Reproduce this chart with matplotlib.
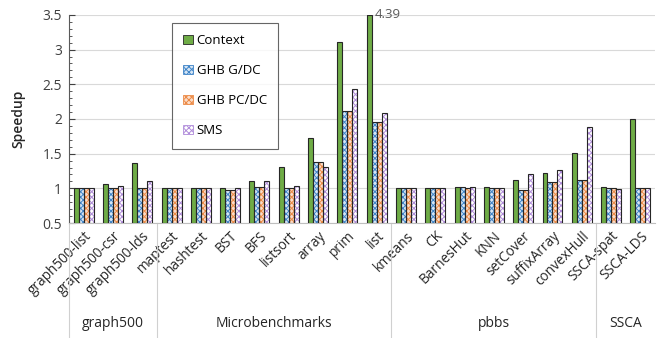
import numpy as np
import matplotlib.pyplot as plt
from matplotlib.patches import Patch

plt.rcParams['font.family'] = ['Open Sans', 'DejaVu Sans']

benchmarks = ['graph500-list', 'graph500-csr', 'graph500-lds',
              'maptest', 'hashtest', 'BST', 'BFS', 'listsort', 'array', 'prim', 'list',
              'kmeans', 'CK', 'BarnesHut', 'KNN', 'setCover', 'suffixArray', 'convexHull',
              'SSCA-spat', 'SSCA-LDS']
groups = ['graph500', 'Microbenchmarks', 'pbbs', 'SSCA']
group_sizes = [3, 8, 7, 2]

context = [1.0, 1.06, 1.37, 1.01, 1.01, 1.01, 1.10, 1.31, 1.73, 3.11, 4.39,
           1.0, 1.0, 1.02, 1.02, 1.12, 1.22, 1.51, 1.02, 2.0]
ghb_gdc = [1.0, 1.0, 1.0, 1.0, 1.0, 0.98, 1.02, 1.0, 1.38, 2.12, 1.95,
           1.0, 1.0, 1.02, 1.0, 0.98, 1.09, 1.12, 1.0, 1.0]
ghb_pcdc = [1.0, 1.0, 1.0, 1.0, 1.0, 0.98, 1.02, 1.0, 1.38, 2.12, 1.95,
            1.0, 1.0, 1.01, 1.0, 0.98, 1.09, 1.12, 1.0, 1.0]
sms = [1.0, 1.03, 1.11, 1.0, 1.0, 1.01, 1.10, 1.04, 1.31, 2.43, 2.08,
       1.0, 1.0, 1.02, 1.01, 1.20, 1.27, 1.88, 0.99, 1.0]

series = [
    ('Context', context, '#6FAC46', None, None),
    ('GHB G/DC', ghb_gdc, '#D6E6F5', '#3F84C8', 'xxxxxx'),
    ('GHB PC/DC', ghb_pcdc, '#FBDCC8', '#EC8A45', 'xxxxxx'),
    ('SMS', sms, '#FFFFFF', '#B08CDA', 'xxxxxx'),
]

fig = plt.figure(figsize=(6.57, 3.38), dpi=100)
ax = fig.add_axes([0.105, 0.340, 0.892, 0.616])

x = np.arange(len(benchmarks))
w = 0.17
ymin, ymax = 0.5, 3.5
plt.rcParams['hatch.linewidth'] = 0.7
handles = []
for k, (name, vals, fill, hcol, hatch) in enumerate(series):
    pos = x + (k - 1.5) * w
    heights = np.minimum(vals, ymax) - ymin
    if hatch:
        ax.bar(pos, heights, w, bottom=ymin, color=fill, edgecolor=hcol,
               hatch=hatch, linewidth=0, zorder=3)
    else:
        ax.bar(pos, heights, w, bottom=ymin, color=fill, linewidth=0, zorder=3)
    ax.bar(pos, heights, w, bottom=ymin, fill=False, edgecolor='#262626',
           linewidth=0.8, zorder=4)
    handles.append(Patch(facecolor=fill, edgecolor=hcol if hatch else '#262626',
                         hatch=hatch, linewidth=0.6, label=name))

ax.text(9.93, 3.5, '4.39', color='#595959', fontsize=9.5, va='center', ha='left')

ax.set_xlim(-0.5, len(benchmarks) - 0.5)
ax.set_ylim(ymin, ymax)
ax.set_yticks(np.arange(0.5, 3.51, 0.5))
ax.set_yticklabels(['0.5', '1', '1.5', '2', '2.5', '3', '3.5'])
ax.set_yticks(np.arange(0.5, 3.51, 0.1), minor=True)
ax.tick_params(axis='y', which='both', direction='in', labelsize=10, colors='#404040')
ax.tick_params(axis='y', which='major', length=4, pad=5)
ax.tick_params(axis='y', which='minor', length=2.5)
ax.set_xticks(x)
ax.set_xticklabels(benchmarks, rotation=45, ha='right', rotation_mode='anchor',
                   fontsize=9.8, color='#262626')
ax.tick_params(axis='x', length=0, pad=4)
ax.yaxis.grid(True, color='#D9D9D9', linewidth=0.8, zorder=0)
ax.set_axisbelow(True)
for s in ['top', 'right']:
    ax.spines[s].set_visible(False)
ax.spines['left'].set_color('#595959')
ax.spines['bottom'].set_color('#BFBFBF')
ax.set_ylabel('Speedup', fontsize=10, color='#262626', labelpad=12,
              fontweight='semibold')

# group separators and group names under the tick labels
bounds = np.concatenate([[0], np.cumsum(group_sizes)]) - 0.5
for b in bounds[:-1]:
    ax.plot([b, b], [ymin, ymin - 1.7], color='#D0D0D0', linewidth=0.8,
            clip_on=False, transform=ax.transData)
for g, lo, hi in zip(groups, bounds[:-1], bounds[1:]):
    ax.text((lo + hi) / 2, ymin - 1.45, g, ha='center', va='center',
            fontsize=10, color='#262626')

leg = ax.legend(handles=handles, loc='upper left', bbox_to_anchor=(0.176, 0.962),
                prop={'size': 9.5}, frameon=True, fancybox=False, edgecolor='#404040',
                labelspacing=1.3, handlelength=0.7, handleheight=0.7,
                handletextpad=0.3, borderpad=0.85, borderaxespad=0)
leg.get_frame().set_linewidth(0.8)
leg.set_zorder(5)

fig.savefig('out.png', dpi=100)
